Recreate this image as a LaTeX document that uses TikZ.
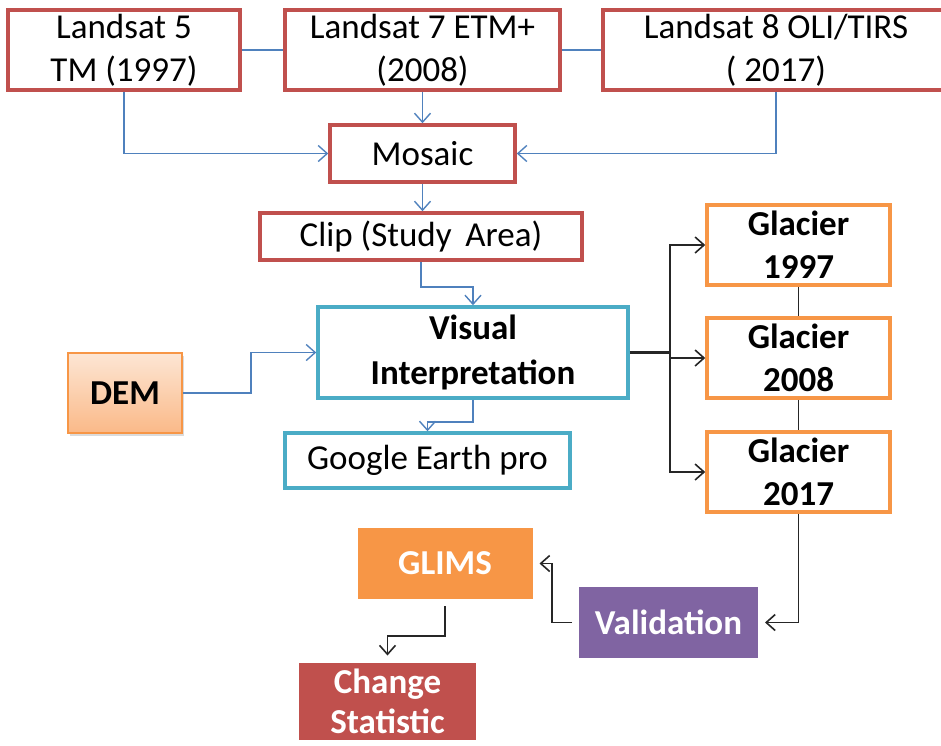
\documentclass[tikz,border=0pt]{standalone}
\usepackage{fontspec}
\setmainfont{Carlito}
\usetikzlibrary{arrows.meta,shadows}
\definecolor{bred}{HTML}{C0504D}
\definecolor{bblue}{HTML}{4F81BD}
\definecolor{bcyan}{HTML}{4BACC6}
\definecolor{borange}{HTML}{F79646}
\definecolor{bpurple}{HTML}{8064A2}
\definecolor{demtop}{HTML}{FDE6D4}
\definecolor{dembot}{HTML}{FAB988}
\tikzset{
  redbox/.style={draw=bred, line width=3.5pt, fill=white, align=center, inner sep=0pt},
  cyanbox/.style={draw=bcyan, line width=3.5pt, fill=white, align=center, inner sep=0pt},
  glacbox/.style={draw=borange, line width=3.5pt, fill=white, align=center, inner sep=0pt, font=\fontsize{35}{43}\selectfont\bfseries},
  smartbox/.style={draw=white, line width=7pt, align=center, inner sep=0pt, text=white,
    font=\fontsize{35}{40}\selectfont\bfseries,
    drop shadow={opacity=0.5, fill=black!40, shadow xshift=2pt, shadow yshift=-3pt}},
  bluearrow/.style={draw=bblue, line width=1.6pt, -{Straight Barb[length=9pt,width=16pt,line width=1.4pt]}},
  blueline/.style={draw=bblue, line width=1.6pt},
  blackarrow/.style={draw=black!85, line width=1.8pt, -{Straight Barb[length=9pt,width=16pt,line width=1.6pt]}},
  blackline/.style={draw=black!85, line width=1.6pt},
}
\begin{document}
\begin{tikzpicture}[x=1pt,y=-1pt, font=\fontsize{35}{43}\selectfont]
\useasboundingbox (0,0) rectangle (941,745);
\begin{scope}
\clip (0,0) rectangle (941,745);
% top row
\node[redbox, minimum width=232, minimum height=80] (l5) at (124,50) {Landsat 5\\TM (1997)};
\node[redbox, minimum width=275, minimum height=80] (l7) at (422.5,50) {Landsat 7 ETM+\\(2008)};
\node[redbox, minimum width=346, minimum height=80] (l8) at (776,50) {Landsat 8 OLI/TIRS\\( 2017)};
\node[redbox, minimum width=185, minimum height=57] (mos) at (422.5,153.5) {Mosaic};
\node[redbox, minimum width=322, minimum height=47] (clip) at (421,236.5) {Clip (Study\ \,Area)};
\node[cyanbox, minimum width=310, minimum height=91, font=\fontsize{35}{45}\selectfont\bfseries] (vis) at (473,352.5) {Visual\\Interpretation};
\node[cyanbox, minimum width=285, minimum height=55] (ge) at (427.5,460.5) {Google Earth pro};
\node[draw=borange, line width=2pt, top color=demtop, bottom color=dembot, minimum width=114, minimum height=80,
  font=\fontsize{35}{43}\selectfont\bfseries, drop shadow={opacity=0.35, fill=black!40, shadow xshift=2pt, shadow yshift=-3pt}] (dem) at (125,393) {DEM};
\node[glacbox, minimum width=183, minimum height=80] (g1) at (798.5,245) {Glacier\\1997};
\node[glacbox, minimum width=183, minimum height=80] (g2) at (798.5,358) {Glacier\\2008};
\node[glacbox, minimum width=183, minimum height=80] (g3) at (798.5,472) {Glacier\\2017};
\node[smartbox, fill=bpurple, minimum width=186, minimum height=78] (val) at (668.5,622.5) {Validation};
\node[smartbox, fill=borange, minimum width=182, minimum height=78] (glims) at (445,563.5) {GLIMS};
\node[smartbox, fill=bred, minimum width=184, minimum height=84] (chg) at (387.5,701) {Change\\Statistic};

% connectors
\draw[blueline] (l5) -- (l7);
\draw[blueline] (l7) -- (l8);
\draw[bluearrow] (l7.south) -- (mos.north);
\draw[bluearrow] (l5.south) |- (mos.west);
\draw[bluearrow] (l8.south) |- (mos.east);
\draw[bluearrow] (mos.south) -- (mos.south |- clip.north);
\draw[bluearrow] (clip.south) -- ++(0,25) -| (vis.north);
\draw[bluearrow] (dem.east) -- ++(68,0) |- (vis.west);
\draw[bluearrow] (vis.south) -- ++(0,22) -| (ge.north);
\draw[blackline, line width=2.2pt] (vis.east) -- ++(40,0) coordinate (j);
\draw[blackarrow] (j) |- (g1.west);
\draw[blackarrow] (j) |- (g2.west);
\draw[blackarrow] (j) |- (g3.west);
\draw[blackline] (g1.south) -- (g2.north);
\draw[blackline] (g2.south) -- (g3.north);
\draw[blackarrow] (g3.south) |- (val.east);
\draw[blackarrow] (val.west) -- ++(-20,0) |- (glims.east);
\draw[blackarrow] (glims.south) -- ++(0,30) -| (chg.north);
\end{scope}
\end{tikzpicture}
\end{document}
